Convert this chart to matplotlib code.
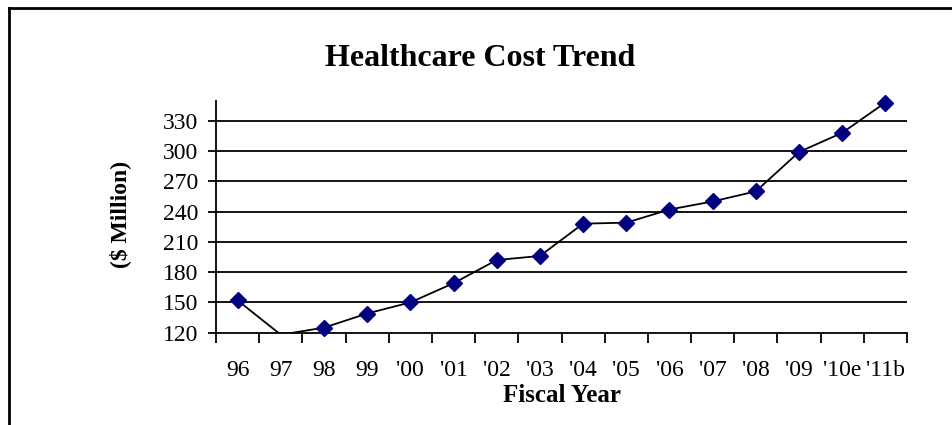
import numpy as np
import matplotlib.pyplot as plt
from matplotlib.lines import Line2D

plt.rcParams['font.family'] = ['Liberation Serif', 'DejaVu Serif']

years = ['96', '97', '98', '99', "'00", "'01", "'02", "'03", "'04", "'05",
         "'06", "'07", "'08", "'09", "'10e", "'11b"]
cost = [152, 118, 125, 139, 150, 169, 192, 196, 228, 229,
        242, 250, 260, 299, 318, 348]
yticks = [120, 150, 180, 210, 240, 270, 300, 330]

W, H = 952, 425
fig = plt.figure(figsize=(W / 100, H / 100), dpi=100)

# plot area in pixels
x0, x1, ytop, ybot = 216, 907, 100.5, 332.7
ax = fig.add_axes([x0 / W, 1 - ybot / H, (x1 - x0) / W, (ybot - ytop) / H])

x = np.arange(len(years))
cost = np.array(cost)
ax.plot(x, cost, color='black', lw=1.3, zorder=3)
vis = cost >= yticks[0]
ax.plot(x[vis], cost[vis], ls='none', marker='D', ms=8.5, color='#000080',
        zorder=4, clip_on=False)

ax.set_xlim(-0.5, len(years) - 0.5)
ax.set_ylim(120, 350)
ax.set_yticks(yticks)
for v in yticks[1:]:
    ax.axhline(v, color='black', lw=1.3, zorder=1)

ax.set_xticks(np.arange(-0.5, len(years)), minor=False)
ax.set_xticklabels([])
ax.set_xticks(x, minor=True)
ax.set_xticklabels(years, minor=True, fontsize=17)
ax.tick_params(axis='x', which='major', direction='out', length=7, width=1.3)
ax.tick_params(axis='x', which='minor', length=0, pad=20)
ax.tick_params(axis='y', direction='out', length=6, width=1.3, labelsize=17, pad=7)

for s in ['top', 'right']:
    ax.spines[s].set_visible(False)
for s in ['left', 'bottom']:
    ax.spines[s].set_linewidth(1.3)

fig.text(480 / W, 1 - 58 / H, 'Healthcare Cost Trend', ha='center', va='center',
         fontsize=23, fontweight='bold')
fig.text(120 / W, 1 - 214 / H, '($ Million)', ha='center', va='center',
         rotation=90, fontsize=17, fontweight='bold')
fig.text(562 / W, 1 - 396 / H, 'Fiscal Year', ha='center', va='center',
         fontsize=18, fontweight='bold')

# outer frame (top and left edges only)
fig.add_artist(Line2D([8.5 / W, 1], [1 - 7.5 / H, 1 - 7.5 / H], color='black', lw=2))
fig.add_artist(Line2D([8.5 / W, 8.5 / W], [1 - 7.5 / H, 0], color='black', lw=2))

fig.savefig('out.png', dpi=100)
